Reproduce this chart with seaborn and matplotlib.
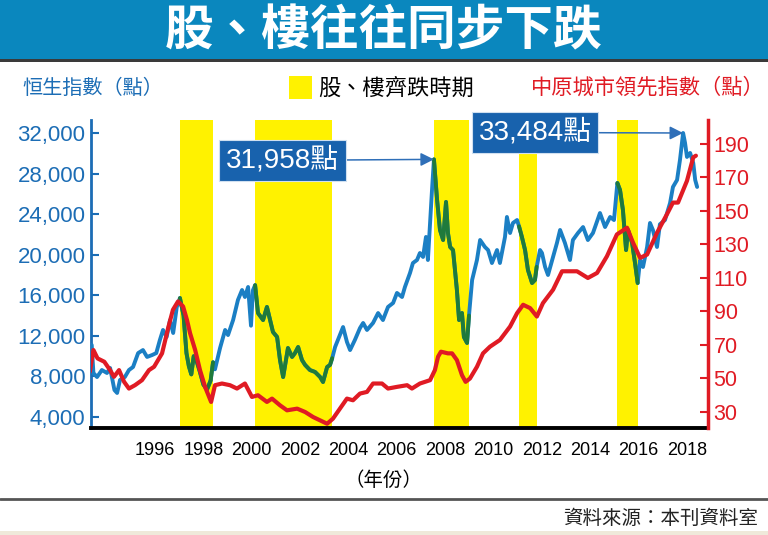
import numpy as np
import pandas as pd
import matplotlib
matplotlib.use("Agg")
import matplotlib.pyplot as plt
import seaborn as sns
from matplotlib.patches import Rectangle
from matplotlib.lines import Line2D

sns.set_theme(style="white")
plt.rcParams["font.family"] = ["Liberation Sans", "Noto Sans CJK TC", "DejaVu Sans"]

# ---------------- data ----------------
hsi_year = [1993.38, 1993.45, 1993.60, 1993.80, 1994.01, 1994.14, 1994.32, 1994.43, 1994.55,
            1994.75, 1994.92, 1995.09, 1995.30, 1995.50, 1995.67, 1995.88, 1996.05, 1996.20,
            1996.33, 1996.48, 1996.62, 1996.75, 1996.90, 1997.03,
            1997.18, 1997.30, 1997.40, 1997.50, 1997.60, 1997.72, 1997.85, 1998.00, 1998.15,
            1998.30, 1998.40,
            1998.48, 1998.69, 1998.90, 1999.02, 1999.23, 1999.43, 1999.60, 1999.72, 1999.85,
            1999.97, 2000.05, 2000.14,
            2000.26, 2000.47, 2000.63, 2000.76, 2000.88, 2001.05, 2001.17, 2001.30, 2001.50,
            2001.67, 2001.79, 2001.92, 2002.08, 2002.21, 2002.41, 2002.62, 2002.83, 2002.95,
            2003.12, 2003.24, 2003.33,
            2003.45, 2003.65, 2003.78, 2003.94, 2004.07, 2004.27, 2004.48, 2004.61, 2004.77,
            2005.02, 2005.23, 2005.43, 2005.64, 2005.85, 2006.01, 2006.22, 2006.34, 2006.55,
            2006.67, 2006.84, 2006.96, 2007.09, 2007.21, 2007.29, 2007.38, 2007.46, 2007.54,
            2007.67, 2007.79, 2007.92, 2008.04, 2008.12, 2008.21, 2008.33, 2008.49, 2008.58,
            2008.70, 2008.78, 2008.91, 2008.99,
            2009.12, 2009.32, 2009.45, 2009.65, 2009.78, 2009.94, 2010.15, 2010.27, 2010.48,
            2010.56, 2010.69, 2010.81, 2010.98, 2011.06,
            2011.18, 2011.31, 2011.43, 2011.60, 2011.72, 2011.79,
            2011.93, 2012.01, 2012.14, 2012.26, 2012.47, 2012.63, 2012.76, 2012.96, 2013.17,
            2013.29, 2013.50, 2013.71, 2013.91, 2014.12, 2014.41, 2014.62, 2014.83, 2014.99,
            2015.13,
            2015.24, 2015.36, 2015.49, 2015.57, 2015.74, 2015.86, 2015.97,
            2016.07, 2016.19, 2016.36, 2016.48, 2016.60, 2016.77, 2016.89, 2017.10, 2017.31,
            2017.43, 2017.60, 2017.72, 2017.85, 2017.93, 2018.01, 2018.14, 2018.27, 2018.35,
            2018.43]
hsi_value = [11100, 8340, 7940, 8630, 8340, 8830, 6660, 6370, 7650,
             7940, 8630, 8930, 10300, 10600, 9920, 10110, 10300, 11590,
             12580, 11890, 13560, 12280, 14850, 15730,
             14000, 10300, 9000, 8200, 10000, 9500, 8500, 7200, 6700,
             7600, 9400,
             8700, 10800, 12580, 12080, 13560, 15540, 16520, 15830, 16820,
             13000, 16500, 17000,
             14250, 13560, 14850, 13560, 12380, 11890, 9620, 7940, 10800,
             9920, 10300, 10900, 9620, 9130, 8630, 8440, 7940, 7450,
             8930, 9130, 9800,
             10900, 12080, 12870, 11400, 10600, 11600, 12770, 13270, 12580,
             13270, 14250, 13560, 14850, 15240, 16230, 15830, 16820, 18200,
             19180, 19480, 20170, 19780, 21750, 19480, 23130, 26380, 29400,
             25400, 22440, 21450, 25200, 22140, 20760, 20460, 16520, 13560,
             14250, 11890, 11300, 14000,
             17510, 19480, 21450, 20760, 20460, 19180, 20460, 19180, 21750,
             23720, 22140, 23130, 23420, 22800,
             21750, 20460, 18490, 17210, 17510, 18800,
             20460, 20170, 18790, 18000, 19780, 21160, 22440, 21160, 19480,
             21450, 22140, 22730, 21450, 22140, 24110, 22730, 23720, 23420,
             27070,
             26380, 24410, 20460, 22440, 21160, 19180, 17210,
             19480, 18790, 20760, 23130, 22440, 20760, 23000, 23420, 25100,
             26680, 27370, 29340, 32000, 31020, 29640, 30030, 29040, 27370,
             26680]

ccl_year = [1993.30, 1993.45, 1993.62, 1993.90, 1994.14, 1994.30, 1994.51, 1994.72, 1994.92,
            1995.17, 1995.46, 1995.75, 1995.96, 1996.29, 1996.54, 1996.74, 1996.95, 1997.16,
            1997.32, 1997.45, 1997.66, 1997.86, 1998.07, 1998.32, 1998.48, 1998.77, 1999.10,
            1999.39, 1999.72, 2000.01, 2000.26, 2000.63, 2000.84, 2001.17, 2001.46, 2001.88,
            2002.21, 2002.54, 2002.83, 2003.12, 2003.36, 2003.65, 2003.94, 2004.19, 2004.48,
            2004.77, 2005.02, 2005.39, 2005.64, 2006.01, 2006.43, 2006.63, 2006.96, 2007.38,
            2007.58, 2007.71, 2007.83, 2008.12, 2008.29, 2008.49, 2008.70, 2008.85, 2009.03,
            2009.32, 2009.57, 2009.86, 2010.27, 2010.69, 2010.98, 2011.23, 2011.52, 2011.80,
            2012.05, 2012.47, 2012.84, 2013.17, 2013.46, 2013.91, 2014.29, 2014.70, 2015.11,
            2015.53, 2015.78, 2016.07, 2016.36, 2016.77, 2017.18, 2017.43, 2017.64, 2018.01,
            2018.27, 2018.38]
ccl_value = [54, 67, 62, 60, 55, 51, 55, 48, 44,
             46, 49, 55, 57, 65, 80, 91, 96, 93,
             85, 77, 67, 55, 45, 36, 46, 47, 46,
             44, 47, 39, 40, 36, 38, 34, 31, 32,
             30, 27, 25, 23, 26, 32, 38, 37, 41,
             42, 47, 47, 44, 45, 46, 44, 47, 49,
             55, 63, 66, 65, 65, 61, 52, 48, 50,
             57, 65, 69, 73, 81, 89, 94, 92, 87,
             95, 103, 114, 114, 114, 110, 113, 123, 136,
             140, 131, 122, 124, 137, 148, 155, 155, 168,
             182, 183]

band_start = [1997.03, 2000.14, 2007.54, 2011.06, 2015.13]
band_end = [1998.40, 2003.33, 2008.99, 2011.79, 2015.97]

year_ticks = list(range(1996, 2019, 2))
hsi_ticks = [4000, 8000, 12000, 16000, 20000, 24000, 28000, 32000]
ccl_ticks = [30, 50, 70, 90, 110, 130, 150, 170, 190]
peak_labels = ["31,958點", "33,484點"]

# ---------------- colours ----------------
BLUE = "#1b7fc4"
GREEN = "#1f7a3b"
RED = "#e01b24"
YELLOW = "#fff200"
AXBLUE = "#1c6db5"
BOXBLUE = "#1862ad"

hsi = pd.DataFrame({"year": hsi_year, "value": hsi_value})
ccl = pd.DataFrame({"year": ccl_year, "value": ccl_value})

fig = plt.figure(figsize=(7.68, 5.35), dpi=100)
fig.patch.set_facecolor("white")

# header bar
fig.patches.append(Rectangle((0, 1 - 59 / 535), 1, 59 / 535, transform=fig.transFigure,
                             facecolor="#0a87be", edgecolor="none", zorder=0))
fig.patches.append(Rectangle((0, 1 - 62 / 535), 1, 3 / 535, transform=fig.transFigure,
                             facecolor="#3a3a3a", edgecolor="none", zorder=0))
fig.text(0.5, 1 - 31 / 535, "股、樓往往同步下跌", color="white", fontsize=35,
         fontweight="bold", ha="center", va="center", family=["Noto Sans CJK TC"])

# header row
hy = 1 - 88 / 535
fig.text(22 / 768, hy, "恒生指數（點）", color=AXBLUE, fontsize=14.5, ha="left", va="center",
         family=["Noto Sans CJK TC"])
fig.patches.append(Rectangle((289 / 768, 1 - 99 / 535), 23 / 768, 23 / 535,
                             transform=fig.transFigure, facecolor=YELLOW, edgecolor="none"))
fig.text(318 / 768, hy, "股、樓齊跌時期", color="black", fontsize=16, ha="left", va="center",
         family=["Noto Sans CJK TC"])
fig.text(765 / 768, hy, "中原城市領先指數（點）", color=RED, fontsize=15.3, ha="right",
         va="center", family=["Noto Sans CJK TC"])

# main axes
ax = fig.add_axes([91 / 768, 107 / 535, 617 / 768, 308 / 535])
ax.set_facecolor("white")
for s, e in zip(band_start, band_end):
    ax.axvspan(s, e, color=YELLOW, lw=0, zorder=0)

sns.lineplot(data=hsi, x="year", y="value", ax=ax, color=BLUE, linewidth=2.8,
             estimator=None, sort=False, zorder=3)
for s, e in zip(band_start, band_end):
    seg = hsi[(hsi["year"] >= s - 1e-6) & (hsi["year"] <= e + 1e-6)]
    sns.lineplot(data=seg, x="year", y="value", ax=ax, color=GREEN, linewidth=2.8,
                 estimator=None, sort=False, zorder=4)

ax.set_xlim(1993.35, 2018.88)
ax.set_ylim(2915, 33282)
ax.set_xticks(year_ticks)
ax.set_xticklabels([str(y) for y in year_ticks])
ax.set_yticks(hsi_ticks)
ax.set_yticklabels([f"{v:,}" for v in hsi_ticks])
ax.set_xlabel("")
ax.set_ylabel("")
ax.tick_params(axis="x", direction="in", length=6, width=1.5, colors="black",
               labelsize=13, pad=10)
ax.tick_params(axis="y", direction="in", length=6, width=1.5, colors=AXBLUE,
               labelsize=16, pad=4)
for lbl in ax.get_yticklabels():
    lbl.set_color(AXBLUE)
ax.spines["top"].set_visible(False)
ax.spines["right"].set_visible(False)
ax.spines["left"].set_color(AXBLUE)
ax.spines["left"].set_linewidth(2)
ax.spines["bottom"].set_color("black")
ax.spines["bottom"].set_linewidth(2.8)

ax2 = ax.twinx()
sns.lineplot(data=ccl, x="year", y="value", ax=ax2, color=RED, linewidth=3.0,
             estimator=None, sort=False, zorder=5)
ax2.set_ylim(20.45, 204.3)
ax2.set_yticks(ccl_ticks)
ax2.set_ylabel("")
ax2.tick_params(axis="y", direction="in", length=6, width=1.5, colors=RED,
                labelsize=15.5, pad=4)
for sp in ["top", "left", "bottom"]:
    ax2.spines[sp].set_visible(False)
ax2.spines["right"].set_color(RED)
ax2.spines["right"].set_linewidth(2.5)

# peak annotations
m1 = hsi[(hsi["year"] > 2005) & (hsi["year"] < 2010)]["value"].idxmax()
m2 = hsi["value"].idxmax()
peaks = [(hsi.loc[m1, "year"], hsi.loc[m1, "value"]), (hsi.loc[m2, "year"], hsi.loc[m2, "value"])]
text_pos = [(2001.27, 29300), (2011.72, 32050)]
for lab, (px, py), (tx, ty) in zip(peak_labels, peaks, text_pos):
    ax.annotate(lab, xy=(px, py), xytext=(tx, ty), textcoords="data",
                color="white", fontsize=20, ha="center", va="center",
                family=["Liberation Sans", "Noto Sans CJK TC"],
                bbox=dict(boxstyle="square,pad=0.25", fc=BOXBLUE, ec="#d0e0f0", lw=0.8),
                arrowprops=dict(arrowstyle="-|>", color="#2f6fb8", lw=1.1,
                                mutation_scale=20, shrinkA=0, shrinkB=0),
                annotation_clip=False, zorder=10)

# x label
fig.text(0.5, 1 - 480 / 535, "（年份）", color="black", fontsize=14, ha="center",
         va="center", family=["Noto Sans CJK TC"])

# footer
fig.lines.append(Line2D([0, 1], [1 - 499 / 535, 1 - 499 / 535], transform=fig.transFigure,
                        color="#555555", lw=2))
fig.text(758 / 768, 1 - 518 / 535, "資料來源：本刊資料室", color="#222222", fontsize=14,
         ha="right", va="center", family=["Noto Sans CJK TC"])
fig.patches.append(Rectangle((0, 0), 1, 4 / 535, transform=fig.transFigure,
                             facecolor="#efe9da", edgecolor="none"))

fig.savefig("out.png", dpi=100)
